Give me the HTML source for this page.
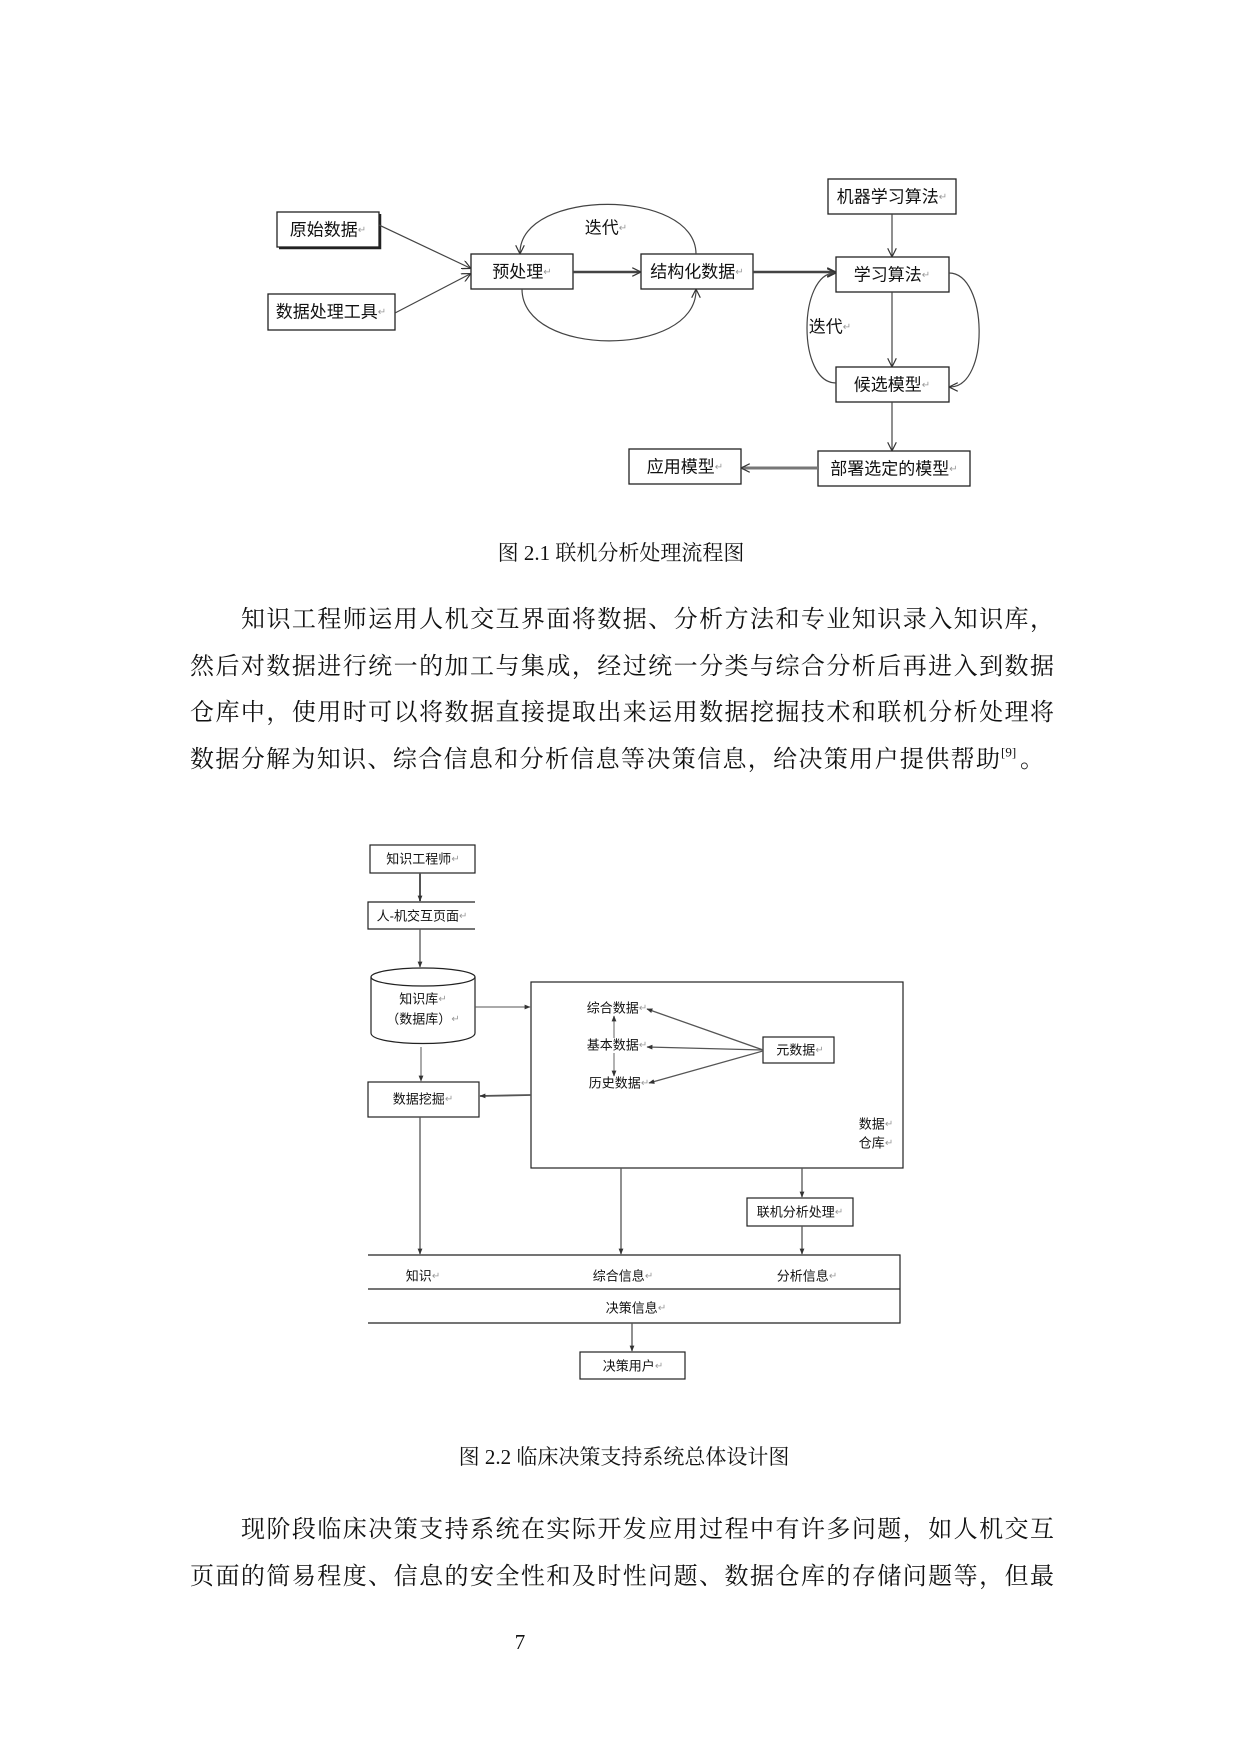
<!DOCTYPE html>
<html><head><meta charset="utf-8"><style>
html,body{margin:0;padding:0;background:#fff;}
svg{display:block;}
.d1{font-family:"Liberation Sans","Noto Sans CJK SC",sans-serif;font-size:17px;fill:#111;}
.d2{font-family:"Liberation Sans","Noto Sans CJK SC",sans-serif;font-size:13px;fill:#111;}
.rt{fill:#999;font-size:10px;}
.cap{font-family:"Liberation Serif","Noto Serif CJK SC",serif;font-size:21px;fill:#111;}
.bd{font-family:"Liberation Serif","Noto Serif CJK SC",serif;font-size:24px;fill:#111;}
</style></head><body>
<svg width="1240" height="1754" viewBox="0 0 1240 1754" xmlns="http://www.w3.org/2000/svg">
<defs>
<marker id="a" viewBox="0 0 10 10" refX="9" refY="5" markerWidth="9" markerHeight="9" orient="auto" markerUnits="userSpaceOnUse"><path d="M0,0 L10,5 L0,10" fill="none" stroke="#333" stroke-width="1.3"/></marker>
<marker id="s" viewBox="0 0 10 10" refX="9" refY="5" markerWidth="6" markerHeight="6" orient="auto" markerUnits="userSpaceOnUse"><path d="M0,1 L10,5 L0,9 z" fill="#333"/></marker>
</defs>
<g fill="none" stroke="#222" stroke-width="1.3">
<rect x="277" y="212" width="102" height="35"/>
<path d="M279,248 H380 V214" stroke-width="2.5"/>
<rect x="268" y="294" width="127" height="36"/>
<rect x="471" y="254" width="102" height="35"/>
<rect x="641" y="254" width="112" height="35"/>
<rect x="828" y="179" width="128" height="35"/>
<rect x="836" y="257" width="113" height="35"/>
<rect x="836" y="367" width="113" height="35"/>
<rect x="818" y="451" width="152" height="35"/>
<rect x="629" y="449" width="112" height="35"/>
</g>
<g fill="none" stroke="#444" stroke-width="1.2" marker-end="url(#a)">
<line x1="379" y1="225" x2="470" y2="268"/>
<line x1="395" y1="313" x2="470" y2="274"/>
<line x1="573" y1="272" x2="640" y2="272" stroke-width="2.5"/>
<line x1="753" y1="272" x2="835" y2="272" stroke-width="2.5"/>
<line x1="892" y1="214" x2="892" y2="256"/>
<line x1="892" y1="292" x2="892" y2="366"/>
<line x1="892" y1="402" x2="892" y2="450"/>
<line x1="818" y1="468" x2="742" y2="468" stroke-width="3" stroke="#777"/>
<path d="M696,254 C696,188 520,188 520,253"/>
<path d="M522,289 C522,358 696,358 696,290"/>
<path d="M949,273 C988,273 990,387 950,387"/>
<path d="M836,383 C797,383 798,273 835,273"/>
</g>
<g class="d1" text-anchor="middle" dominant-baseline="central">
<text x="328" y="230">原始数据<tspan class="rt">↵</tspan></text>
<text x="331" y="312">数据处理工具<tspan class="rt">↵</tspan></text>
<text x="522" y="272">预处理<tspan class="rt">↵</tspan></text>
<text x="697" y="272">结构化数据<tspan class="rt">↵</tspan></text>
<text x="892" y="197">机器学习算法<tspan class="rt">↵</tspan></text>
<text x="892" y="275">学习算法<tspan class="rt">↵</tspan></text>
<text x="892" y="385">候选模型<tspan class="rt">↵</tspan></text>
<text x="894" y="469">部署选定的模型<tspan class="rt">↵</tspan></text>
<text x="685" y="467">应用模型<tspan class="rt">↵</tspan></text>
<text x="606" y="228">迭代<tspan class="rt">↵</tspan></text>
<text x="830" y="327">迭代<tspan class="rt">↵</tspan></text>
</g>
<text class="cap" x="621" y="553" text-anchor="middle" dominant-baseline="central">图 2.1 联机分析处理流程图</text>
<g class="bd" dominant-baseline="central">
<text x="241" y="620" textLength="813" lengthAdjust="spacing">知识工程师运用人机交互界面将数据、分析方法和专业知识录入知识库，</text>
<text x="190" y="667" textLength="864" lengthAdjust="spacing">然后对数据进行统一的加工与集成，经过统一分类与综合分析后再进入到数据</text>
<text x="190" y="713" textLength="864" lengthAdjust="spacing">仓库中，使用时可以将数据直接提取出来运用数据挖掘技术和联机分析处理将</text>
<text x="190" y="760" textLength="810" lengthAdjust="spacing">数据分解为知识、综合信息和分析信息等决策信息，给决策用户提供帮助</text>
<text x="1001" y="752" font-size="13">[9]</text>
<text x="1020" y="760">。</text>
</g>
<g fill="none" stroke="#222" stroke-width="1.2">
<rect x="370" y="845" width="105" height="28"/>
<path d="M475,902 H368 V929 H475"/>
<path d="M371,977 V1033 C371,1047 475,1047 475,1033 V977"/>
<ellipse cx="423" cy="977" rx="52" ry="9"/>
<rect x="368" y="1082" width="111" height="35"/>
<rect x="531" y="982" width="372" height="186"/>
<rect x="763" y="1037" width="71" height="26"/>
<rect x="747" y="1198" width="106" height="28"/>
<path d="M368,1255 H900 V1323 H368 M368,1289 H900"/>
<rect x="580" y="1352" width="105" height="27"/>
</g>
<g fill="none" stroke="#555" stroke-width="1.3" marker-end="url(#s)">
<line x1="420" y1="873" x2="420" y2="901" stroke-width="2"/>
<line x1="420" y1="929" x2="420" y2="967"/>
<line x1="421" y1="1047" x2="421" y2="1081" stroke-width="1"/>
<line x1="420" y1="1117" x2="420" y2="1254"/>
<line x1="475" y1="1007" x2="530" y2="1007" stroke-width="1"/>
<line x1="531" y1="1095" x2="480" y2="1096" stroke-width="1.8"/>
<line x1="621" y1="1168" x2="621" y2="1254"/>
<line x1="802" y1="1168" x2="802" y2="1197"/>
<line x1="802" y1="1226" x2="802" y2="1254"/>
<line x1="632" y1="1323" x2="632" y2="1351"/>
<line x1="763" y1="1050" x2="647" y2="1009"/>
<line x1="763" y1="1050" x2="647" y2="1047"/>
<line x1="763" y1="1051" x2="649" y2="1083"/>
<line x1="614" y1="1038" x2="614" y2="1016" stroke="#888"/>
<line x1="614" y1="1053" x2="614" y2="1076" stroke="#888"/>
</g>
<g class="d2" text-anchor="middle" dominant-baseline="central">
<text x="423" y="859">知识工程师<tspan class="rt">↵</tspan></text>
<text x="422" y="916">人-机交互页面<tspan class="rt">↵</tspan></text>
<text x="423" y="999">知识库<tspan class="rt">↵</tspan></text>
<text x="423" y="1019">（数据库）<tspan class="rt">↵</tspan></text>
<text x="423" y="1099">数据挖掘<tspan class="rt">↵</tspan></text>
<text x="617" y="1008">综合数据<tspan class="rt">↵</tspan></text>
<text x="617" y="1045">基本数据<tspan class="rt">↵</tspan></text>
<text x="619" y="1083">历史数据<tspan class="rt">↵</tspan></text>
<text x="800" y="1050">元数据<tspan class="rt">↵</tspan></text>
<text x="876" y="1124">数据<tspan class="rt">↵</tspan></text>
<text x="876" y="1143">仓库<tspan class="rt">↵</tspan></text>
<text x="800" y="1212">联机分析处理<tspan class="rt">↵</tspan></text>
<text x="423" y="1276">知识<tspan class="rt">↵</tspan></text>
<text x="623" y="1276">综合信息<tspan class="rt">↵</tspan></text>
<text x="807" y="1276">分析信息<tspan class="rt">↵</tspan></text>
<text x="636" y="1308">决策信息<tspan class="rt">↵</tspan></text>
<text x="633" y="1366">决策用户<tspan class="rt">↵</tspan></text>
</g>
<text class="cap" x="624" y="1457" text-anchor="middle" dominant-baseline="central">图 2.2 临床决策支持系统总体设计图</text>
<g class="bd" dominant-baseline="central">
<text x="241" y="1530" textLength="813" lengthAdjust="spacing">现阶段临床决策支持系统在实际开发应用过程中有许多问题，如人机交互</text>
<text x="190" y="1577" textLength="864" lengthAdjust="spacing">页面的简易程度、信息的安全性和及时性问题、数据仓库的存储问题等，但最</text>
</g>
<text class="cap" x="520" y="1642" text-anchor="middle" dominant-baseline="central" font-size="20">7</text>
</svg>
</body></html>
